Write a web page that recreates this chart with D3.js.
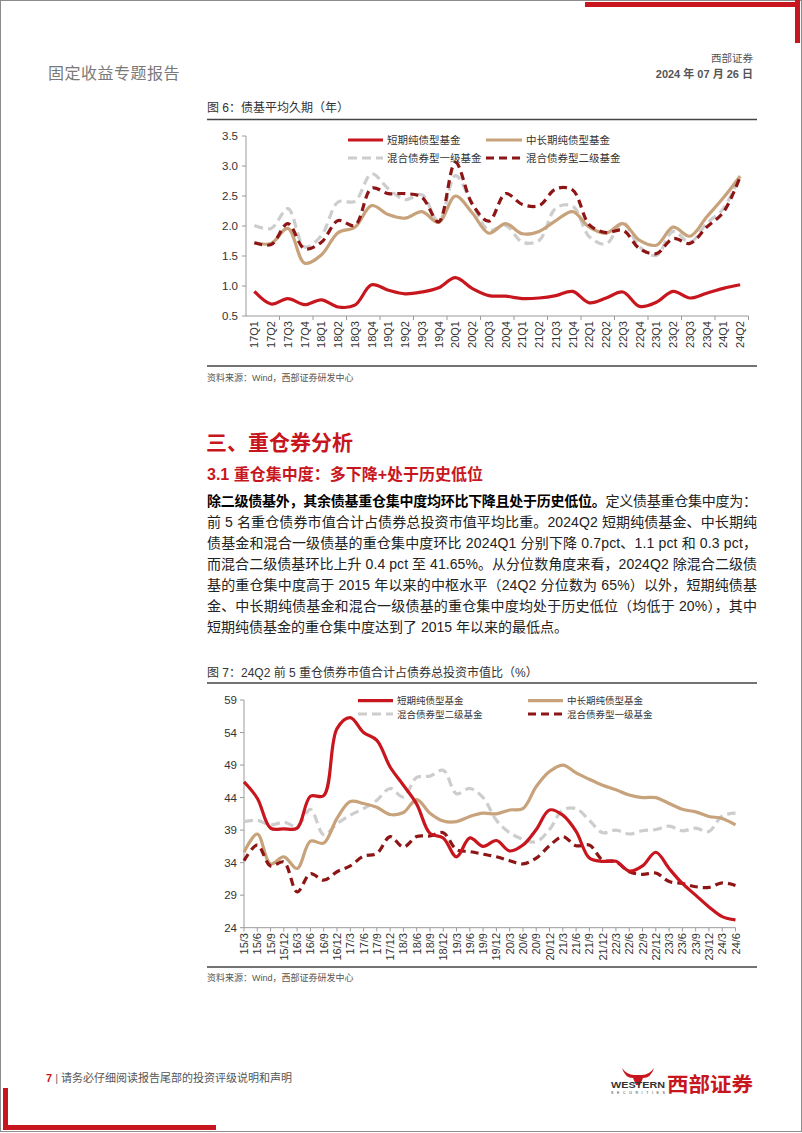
<!DOCTYPE html>
<html><head><meta charset="utf-8">
<script src="https://cdn.jsdelivr.net/npm/d3@7"></script>
<style>
body{margin:0;background:#fff}
svg{display:block}
text{font-family:"Liberation Sans","Noto Sans CJK SC",sans-serif}
</style>
</head><body>
<svg id="page" width="802" height="1133"></svg>
<script>
// ---------------- Chart 1 data: 债基平均久期（年） ----------------
const quarters = ["17Q1","17Q2","17Q3","17Q4","18Q1","18Q2","18Q3","18Q4","19Q1","19Q2","19Q3","19Q4",
  "20Q1","20Q2","20Q3","20Q4","21Q1","21Q2","21Q3","21Q4","22Q1","22Q2","22Q3","22Q4",
  "23Q1","23Q2","23Q3","23Q4","24Q1","24Q2"];
const durShortPure = [0.91,0.70,0.79,0.69,0.77,0.65,0.68,1.02,0.93,0.87,0.90,0.97,1.14,0.96,0.84,0.83,0.79,0.80,0.84,0.91,0.72,0.80,0.90,0.66,0.73,0.91,0.80,0.88,0.96,1.02];
const durMidLong   = [1.72,1.71,1.96,1.38,1.52,1.89,1.98,2.34,2.19,2.13,2.24,2.06,2.50,2.22,1.88,2.04,1.87,1.91,2.09,2.24,1.98,1.88,2.04,1.76,1.68,1.98,1.83,2.15,2.47,2.83];
const durHybrid1   = [2.01,1.96,2.29,1.65,1.84,2.40,2.41,2.87,2.62,2.44,2.52,2.07,2.84,2.38,1.93,2.01,1.73,1.76,2.30,2.33,1.82,1.70,2.06,1.65,1.51,1.91,1.73,2.04,2.29,2.84];
const durHybrid2   = [1.72,1.69,2.04,1.62,1.73,2.09,2.01,2.63,2.54,2.54,2.48,2.07,3.06,2.37,2.08,2.54,2.36,2.34,2.62,2.60,2.02,1.89,1.93,1.62,1.54,1.79,1.71,1.98,2.23,2.82];
const durTicks = [0.5,1.0,1.5,2.0,2.5,3.0,3.5];

// ---------------- Chart 2 data: 前5重仓债券市值占比（%） ----------------
const dates = ["15/3","15/6","15/9","15/12","16/3","16/6","16/9","16/12","17/3","17/6","17/9","17/12",
  "18/3","18/6","18/9","18/12","19/3","19/6","19/9","19/12","20/3","20/6","20/9","20/12",
  "21/3","21/6","21/9","21/12","22/3","22/6","22/9","22/12","23/3","23/6","23/9","23/12","24/3","24/6"];
const concShortPure = [46.4,43.9,39.3,39.2,39.3,44.2,44.3,54.6,56.3,54.0,52.8,48.7,45.9,43.0,38.5,37.8,34.9,37.8,36.5,37.4,35.8,36.7,39.1,42.1,41.3,38.8,34.7,34.2,34.2,32.7,33.5,35.6,33.1,30.8,29.0,27.2,25.7,25.2];
const concMidLong   = [35.6,38.4,33.8,34.9,33.1,37.3,37.0,40.8,43.4,43.1,42.5,41.4,41.7,43.7,41.6,40.4,40.3,41.1,41.6,41.5,42.1,42.3,45.7,48.0,49.0,47.8,46.8,45.9,45.2,44.4,44.0,44.0,43.1,42.2,41.8,41.1,40.8,39.8];
const concHybrid2   = [40.3,40.5,39.8,40.2,39.6,42.2,38.3,40.0,41.3,42.3,43.6,45.4,44.1,47.1,47.3,48.2,44.6,45.4,44.0,40.5,38.6,37.6,37.2,39.1,42.1,42.3,40.5,38.6,39.0,38.4,38.9,39.1,39.6,38.9,39.3,38.8,41.2,41.6];
const concHybrid1   = [34.3,36.7,33.5,34.1,29.5,32.3,31.3,32.6,33.5,35.0,35.4,38.0,36.4,38.0,38.1,38.6,36.0,35.7,35.3,34.9,34.3,33.8,34.7,36.6,38.0,36.6,36.7,34.4,34.1,32.6,32.2,32.4,31.1,30.8,30.3,30.2,30.9,30.5];
const concTicks = [24,29,34,39,44,49,54,59];

// ---------------- styles ----------------
const RED = "#C8161E", TAN = "#C7A27A", GREY = "#CDCDCD", DRED = "#8E1515";
const AXIS = "#9A9A9A";

const svg = d3.select("#page");

// page frame & decorations
svg.append("rect").attr("x",0.5).attr("y",0.5).attr("width",801).attr("height",1131)
  .attr("fill","#fff").attr("stroke","#8c8c8c").attr("stroke-width",1);
svg.append("rect").attr("x",585).attr("y",2).attr("width",215).attr("height",5).attr("fill",RED);
svg.append("rect").attr("x",795).attr("y",0).attr("width",5).attr("height",43).attr("fill",RED);
svg.append("rect").attr("x",3).attr("y",1088).attr("width",5).attr("height",42).attr("fill",RED);
svg.append("rect").attr("x",3).attr("y",1125).attr("width",213).attr("height",5).attr("fill",RED);

// header
svg.append("text").attr("x",48).attr("y",79).attr("font-size",16).attr("fill","#7a7a7a")
  .attr("letter-spacing",0.5).text("固定收益专题报告");
svg.append("text").attr("x",753).attr("y",62).attr("text-anchor","end").attr("font-size",10.5)
  .attr("fill","#555").text("西部证券");
svg.append("text").attr("x",753).attr("y",78).attr("text-anchor","end").attr("font-size",11)
  .attr("font-weight","bold").attr("fill","#555").text("2024 年 07 月 26 日");

// footer
const ft = svg.append("text").attr("x",46).attr("y",1082).attr("font-size",11).attr("fill","#555");
ft.append("tspan").attr("fill",RED).attr("font-weight","bold").text("7");
ft.append("tspan").attr("fill","#666").text(" | ");
ft.append("tspan").text("请务必仔细阅读报告尾部的投资评级说明和声明");
// logo
svg.append("path").attr("fill",RED)
  .attr("d","M622,1068 Q625,1078 633,1078 L636,1085 L640,1085 L643,1078 Q651,1078 654,1068 Q649,1075 642,1075 L634,1075 Q627,1075 622,1068 Z");
svg.append("text").attr("x",611).attr("y",1088).attr("font-size",8.5).attr("font-weight","bold")
  .attr("fill","#333").attr("textLength",54).attr("lengthAdjust","spacingAndGlyphs").text("WESTERN");
svg.append("text").attr("x",611).attr("y",1094).attr("font-size",3.6).attr("fill","#333")
  .attr("textLength",54).attr("lengthAdjust","spacing").text("SECURITIES");
svg.append("text").attr("x",667).attr("y",1092).attr("font-size",20).attr("font-weight","bold")
  .attr("fill",RED).attr("textLength",86).attr("lengthAdjust","spacingAndGlyphs").text("西部证券");

// helper: figure title / source
function figTitle(y, txt, lineY){
  svg.append("text").attr("x",207).attr("y",y).attr("font-size",12).attr("fill","#333").text(txt);
  svg.append("line").attr("x1",207).attr("x2",757).attr("y1",lineY).attr("y2",lineY)
    .attr("stroke","#444").attr("stroke-width",1.3);
}
function figSource(lineY, y){
  svg.append("line").attr("x1",207).attr("x2",757).attr("y1",lineY).attr("y2",lineY)
    .attr("stroke","#444").attr("stroke-width",1.3);
  svg.append("text").attr("x",207).attr("y",y).attr("font-size",9).attr("fill","#555")
    .text("资料来源：Wind，西部证券研发中心");
}
function legendItem(x1,x2,y,color,dash,label,fs){
  svg.append("line").attr("x1",x1).attr("x2",x2).attr("y1",y).attr("y2",y)
    .attr("stroke",color).attr("stroke-width",3.2).attr("stroke-dasharray",dash||null);
  svg.append("text").attr("x",x2+4).attr("y",y).attr("dominant-baseline","central")
    .attr("font-size",fs).attr("fill","#333").text(label);
}

// ================= Chart 1 =================
figTitle(112, "图 6：债基平均久期（年）", 119.5);
const x1 = d3.scaleBand().domain(quarters).range([246, 748.5]).padding(0);
const y1 = d3.scaleLinear().domain([0.5,3.5]).range([316,136]);
const g1 = svg.append("g");
g1.append("line").attr("x1",246).attr("x2",246).attr("y1",y1(3.5)).attr("y2",y1(0.5)).attr("stroke",AXIS);
g1.append("line").attr("x1",246).attr("x2",748.5).attr("y1",y1(0.5)).attr("y2",y1(0.5)).attr("stroke",AXIS);
durTicks.forEach(t=>{
  g1.append("line").attr("x1",242).attr("x2",246).attr("y1",y1(t)).attr("y2",y1(t)).attr("stroke",AXIS);
  g1.append("text").attr("x",238).attr("y",y1(t)).attr("dominant-baseline","central")
    .attr("text-anchor","end").attr("font-size",11.5).attr("fill","#333").text(t.toFixed(1));
});
quarters.forEach((q,i)=>{
  if(i%2===0 && i>0){
    const xx = x1(q);
    g1.append("line").attr("x1",xx).attr("x2",xx).attr("y1",316).attr("y2",320).attr("stroke",AXIS);
  }
  const cx = x1(q)+x1.bandwidth()/2;
  g1.append("text").attr("transform",`translate(${cx},321) rotate(-90)`)
    .attr("text-anchor","end").attr("dominant-baseline","central")
    .attr("font-size",11).attr("fill","#333").text(q);
});
g1.append("line").attr("x1",748.5).attr("x2",748.5).attr("y1",316).attr("y2",320).attr("stroke",AXIS);
const line1 = d3.line().x((d,i)=>x1(quarters[i])+x1.bandwidth()/2).y(d=>y1(d)).curve(d3.curveCatmullRom.alpha(0.5));
[[durHybrid1,GREY,"9,5"],[durMidLong,TAN,null],[durHybrid2,DRED,"8,5"],[durShortPure,RED,null]].forEach(([arr,c,dash])=>{
  g1.append("path").attr("d",line1(arr)).attr("fill","none").attr("stroke",c)
    .attr("stroke-width",3.2).attr("stroke-dasharray",dash).attr("stroke-linejoin","round");
});
legendItem(348,383,140,RED,null,"短期纯债型基金",10.5);
legendItem(486,522,140,TAN,null,"中长期纯债型基金",10.5);
legendItem(348,383,158,GREY,"9,5","混合债券型一级基金",10.5);
legendItem(486,522,158,DRED,"8,5","混合债券型二级基金",10.5);
figSource(366, 381);

// ================= Section text =================
svg.append("text").attr("x",206).attr("y",450).attr("font-size",21).attr("font-weight","bold")
  .attr("fill",RED).text("三、重仓券分析");
svg.append("text").attr("x",207).attr("y",480).attr("font-size",16).attr("font-weight","bold")
  .attr("fill",RED).text("3.1 重仓集中度：多下降+处于历史低位");
const para = [
  ["除二级债基外，其余债基重仓集中度均环比下降且处于历史低位。","定义债基重仓集中度为："],
  [null,"前 5 名重仓债券市值合计占债券总投资市值平均比重。2024Q2 短期纯债基金、中长期纯"],
  [null,"债基金和混合一级债基的重仓集中度环比 2024Q1 分别下降 0.7pct、1.1 pct 和 0.3 pct，"],
  [null,"而混合二级债基环比上升 0.4 pct 至 41.65%。从分位数角度来看，2024Q2 除混合二级债"],
  [null,"基的重仓集中度高于 2015 年以来的中枢水平（24Q2 分位数为 65%）以外，短期纯债基"],
  [null,"金、中长期纯债基金和混合一级债基的重仓集中度均处于历史低位（均低于 20%），其中"],
  [null,"短期纯债基金的重仓集中度达到了 2015 年以来的最低点。"]
];
para.forEach((p,i)=>{
  const t = svg.append("text").attr("x",207).attr("y",506+i*21).attr("font-size",14).attr("fill","#222");
  if(p[0]) t.append("tspan").attr("font-weight","bold").attr("fill","#000").text(p[0]);
  t.append("tspan").text(p[1]);
  if(i<para.length-1) t.attr("textLength",550).attr("lengthAdjust","spacing");
});

// ================= Chart 2 =================
figTitle(677, "图 7：24Q2 前 5 重仓债券市值合计占债券总投资市值比（%）", 683);
const x2 = d3.scalePoint().domain(dates).range([244, 735.5]);
const y2 = d3.scaleLinear().domain([24,59]).range([927.7,700]);
const g2 = svg.append("g");
g2.append("line").attr("x1",244).attr("x2",244).attr("y1",y2(59)).attr("y2",y2(24)).attr("stroke",AXIS);
g2.append("line").attr("x1",244).attr("x2",735.5).attr("y1",y2(24)).attr("y2",y2(24)).attr("stroke",AXIS);
concTicks.forEach(t=>{
  g2.append("line").attr("x1",240).attr("x2",244).attr("y1",y2(t)).attr("y2",y2(t)).attr("stroke",AXIS);
  g2.append("text").attr("x",237).attr("y",y2(t)).attr("dominant-baseline","central")
    .attr("text-anchor","end").attr("font-size",11.5).attr("fill","#333").text(t);
});
dates.forEach(d=>{
  const xx = x2(d);
  g2.append("line").attr("x1",xx).attr("x2",xx).attr("y1",927.7).attr("y2",931.5).attr("stroke",AXIS);
  g2.append("text").attr("transform",`translate(${xx},933) rotate(-90)`)
    .attr("text-anchor","end").attr("dominant-baseline","central")
    .attr("font-size",11).attr("fill","#333").text(d);
});
const line2 = d3.line().x((d,i)=>x2(dates[i])).y(d=>y2(d)).curve(d3.curveCatmullRom.alpha(0.5));
[[concHybrid2,GREY,"9,5"],[concMidLong,TAN,null],[concHybrid1,DRED,"8,5"],[concShortPure,RED,null]].forEach(([arr,c,dash])=>{
  g2.append("path").attr("d",line2(arr)).attr("fill","none").attr("stroke",c)
    .attr("stroke-width",3.2).attr("stroke-dasharray",dash).attr("stroke-linejoin","round");
});
legendItem(358,393,700.7,RED,null,"短期纯债型基金",9.5);
legendItem(528,563,700.7,TAN,null,"中长期纯债型基金",9.5);
legendItem(358,393,714,GREY,"9,5","混合债券型二级基金",9.5);
legendItem(528,563,714,DRED,"8,5","混合债券型一级基金",9.5);
figSource(967, 981);
</script>
</body></html>
